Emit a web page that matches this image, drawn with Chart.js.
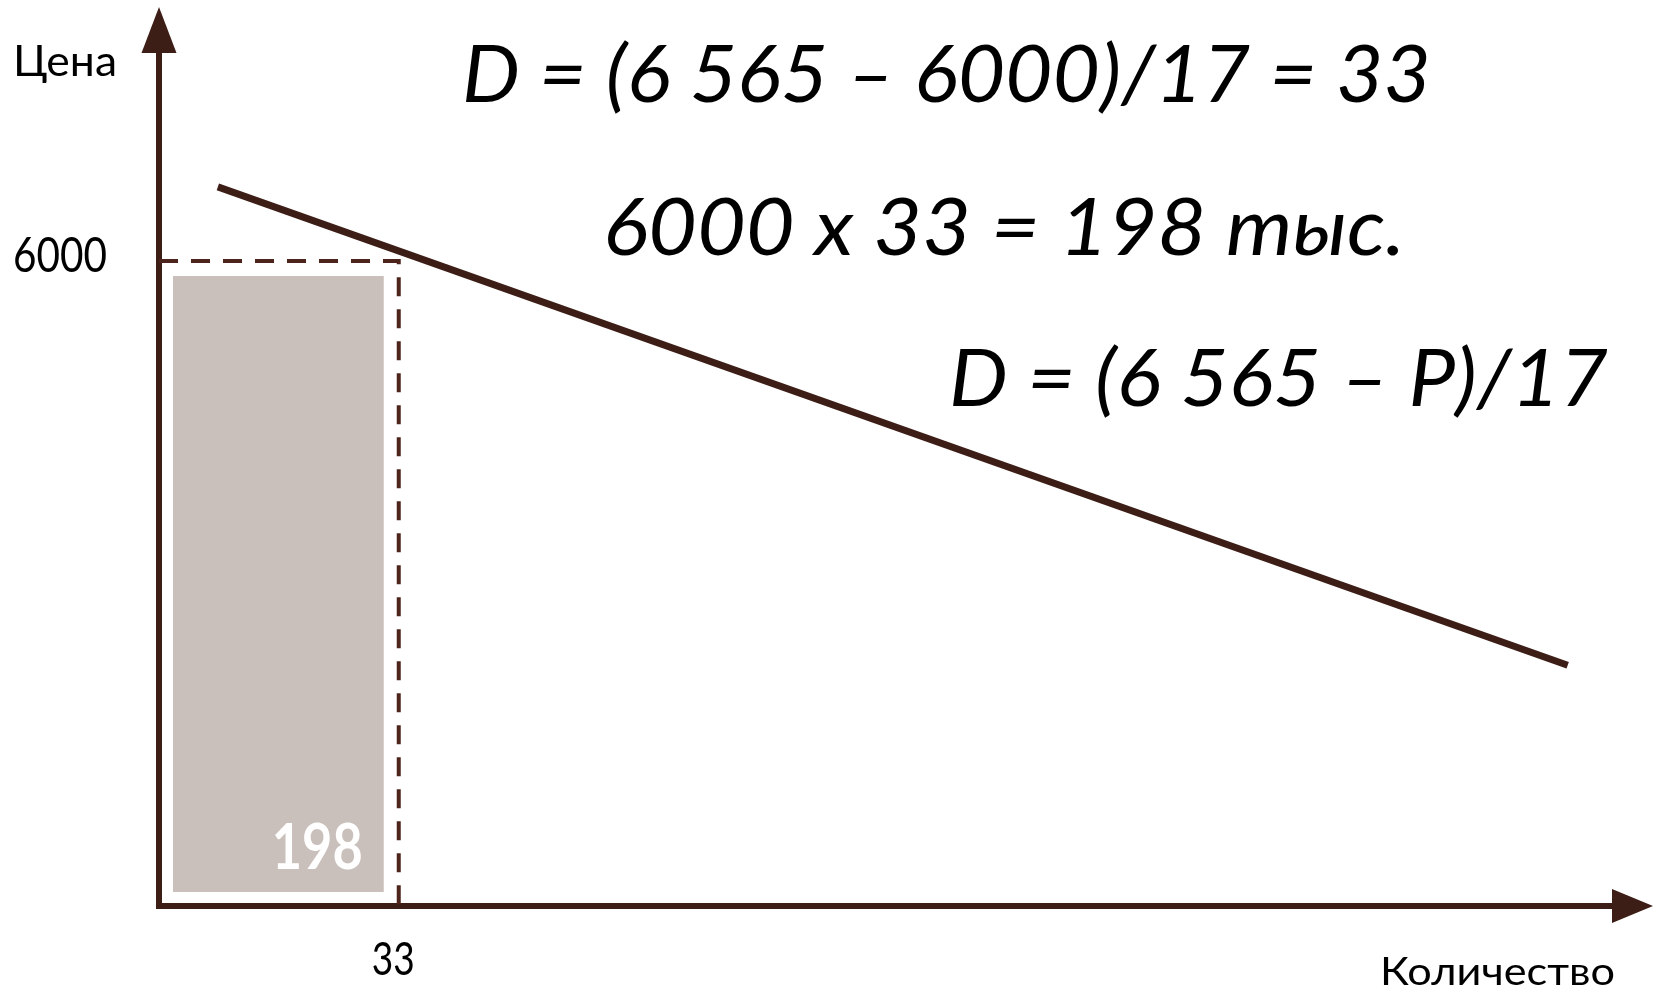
<!DOCTYPE html>
<html lang="ru">
<head>
<meta charset="utf-8">
<title>Спрос и выручка</title>
<script src="https://cdn.jsdelivr.net/npm/chart.js@4.4.1/dist/chart.umd.min.js"></script>
<style>
  html, body { margin: 0; padding: 0; background: #fff; }
  #wrap { width: 1653px; height: 992px; }
</style>
</head>
<body>
<div id="wrap"><canvas id="demand-chart" width="1653" height="992"></canvas></div>
<script>
// demand line (quantity -> price), schematic
const demandQty = [8.1, 193.9];
const demandPrice = [6690, 2240];

// chosen price and the quantity sold at it
const priceLevel = [6000];
const qtyLevel = [33];
const revenueLabel = ['198'];

const formulaLines = [
    'D = (6 565 – 6000)/17 = 33',
    '6000 x 33 = 198 тыс.',
    'D = (6 565 – P)/17'
];
const axisTitles = ['Цена', 'Количество'];

const AXIS_COLOR = '#3c1e16';
const DASH_COLOR = '#4d241b';
const BOX_COLOR = '#c9bfbb';

// draws text starting at x, squeezed or stretched to the given width
function fitText(ctx, text, x, y, width, font, color) {
    ctx.save();
    ctx.font = font;
    ctx.fillStyle = color || '#000';
    ctx.textAlign = 'left';
    ctx.textBaseline = 'alphabetic';
    const w = ctx.measureText(text).width;
    ctx.translate(x, y);
    ctx.scale(width / w, 1);
    ctx.fillText(text, 0, 0);
    ctx.restore();
}

const revenuePlugin = {
    id: 'revenue',
    beforeDatasetsDraw(chart) {
        const {ctx, scales: {x, y}} = chart;
        const left = x.getPixelForValue(0) + 14;
        const right = x.getPixelForValue(qtyLevel[0]) - 15;
        const top = y.getPixelForValue(priceLevel[0]) + 15;
        const bottom = y.getPixelForValue(0) - 14;
        ctx.save();
        ctx.fillStyle = BOX_COLOR;
        ctx.fillRect(left, top, right - left, bottom - top);
        ctx.restore();
        fitText(ctx, revenueLabel[0], right - 21 - 91, bottom - 23, 91, 'bold 64px Lato', '#fff');
    },
    afterDraw(chart) {
        const {ctx, chartArea: area, scales: {x, y}} = chart;
        ctx.save();
        ctx.fillStyle = AXIS_COLOR;
        // arrow heads
        ctx.beginPath();
        ctx.moveTo(area.left - 17.5, area.top);
        ctx.lineTo(area.left + 17.5, area.top);
        ctx.lineTo(area.left, area.top - 46);
        ctx.closePath();
        ctx.fill();
        ctx.beginPath();
        ctx.moveTo(area.right, area.bottom - 17);
        ctx.lineTo(area.right, area.bottom + 17);
        ctx.lineTo(area.right + 41, area.bottom);
        ctx.closePath();
        ctx.fill();
        ctx.restore();

        // axis titles and the two marked values
        fitText(ctx, axisTitles[0], 13, 76, 104, '43px Lato');
        fitText(ctx, axisTitles[1], 1380, 985, 235, '38px Lato');
        fitText(ctx, String(priceLevel[0]), 13, y.getPixelForValue(priceLevel[0]) + 11, 94, '48px Lato');
        fitText(ctx, String(qtyLevel[0]), x.getPixelForValue(qtyLevel[0]) - 27, 975, 43, '46px Lato');

        // formulas
        const f = 'italic 79px Lato';
        fitText(ctx, formulaLines[0], 462, 102, 969, f);
        fitText(ctx, formulaLines[1], 603, 255, 802, f);
        fitText(ctx, formulaLines[2], 949, 406, 659, f);
    }
};

function drawChart() {
    const ctx = document.getElementById('demand-chart').getContext('2d');
    new Chart(ctx, {
        type: 'scatter',
        data: {
            datasets: [{
                label: 'Спрос',
                data: demandQty.map((q, i) => ({x: q, y: demandPrice[i]})),
                showLine: true,
                borderColor: AXIS_COLOR,
                borderWidth: 7,
                pointRadius: 0,
                fill: false
            }, {
                label: 'Цена и количество',
                data: [
                    {x: 0, y: priceLevel[0]},
                    {x: qtyLevel[0], y: priceLevel[0]},
                    {x: qtyLevel[0], y: 0}
                ],
                showLine: true,
                borderColor: DASH_COLOR,
                borderWidth: 4,
                borderDash: [19, 13],
                pointRadius: 0,
                fill: false
            }]
        },
        options: {
            responsive: false,
            animation: false,
            devicePixelRatio: 1,
            layout: {
                padding: {left: 159, top: 53, right: 41, bottom: 86}
            },
            scales: {
                x: {
                    type: 'linear',
                    min: 0,
                    max: 200,
                    grid: {display: false},
                    ticks: {display: false},
                    border: {display: true, color: AXIS_COLOR, width: 6},
                    afterFit: s => { s.height = 0; }
                },
                y: {
                    type: 'linear',
                    min: 0,
                    max: 7935,
                    grid: {display: false},
                    ticks: {display: false},
                    border: {display: true, color: AXIS_COLOR, width: 6},
                    afterFit: s => { s.width = 0; }
                }
            },
            plugins: {
                legend: {display: false},
                tooltip: {enabled: false},
                title: {display: false}
            }
        },
        plugins: [revenuePlugin]
    });
}

Promise.all([
    document.fonts.load('43px Lato'),
    document.fonts.load('bold 64px Lato'),
    document.fonts.load('italic 79px Lato')
]).finally(drawChart);
</script>
</body>
</html>
